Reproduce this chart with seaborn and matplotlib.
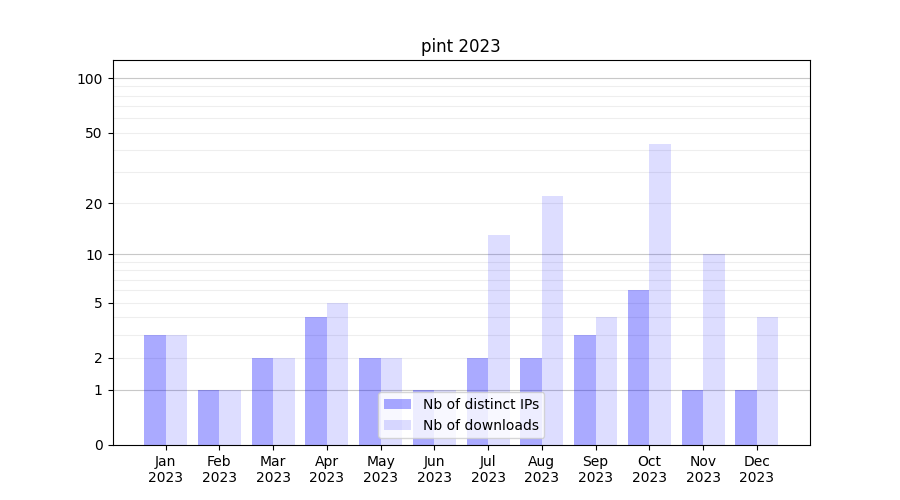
import numpy as np
import pandas as pd
import matplotlib
matplotlib.use('Agg')
import matplotlib.pyplot as plt
import seaborn as sns

# donnees
mois = ['Jan\n2023', 'Feb\n2023', 'Mar\n2023', 'Apr\n2023', 'May\n2023', 'Jun\n2023',
        'Jul\n2023', 'Aug\n2023', 'Sep\n2023', 'Oct\n2023', 'Nov\n2023', 'Dec\n2023']
distinct_ips = [3, 1, 2, 4, 2, 1, 2, 2, 3, 6, 1, 1]
downloads = [3, 1, 2, 5, 2, 1, 13, 22, 4, 43, 10, 4]
series = ['Nb of distinct IPs', 'Nb of downloads']
y_ticks = [0, 1, 2, 5, 10, 20, 50, 100]

df = pd.DataFrame({
    'mois': mois * 2,
    'valeur': distinct_ips + downloads,
    'serie': [series[0]] * len(mois) + [series[1]] * len(mois),
})

fig, ax = plt.subplots(figsize=(9, 5), dpi=100)

# echelle log(x+1)
ax.set_yscale('function', functions=(lambda y: np.log10(np.maximum(y, 0) + 1),
                                      lambda y: 10 ** y - 1))

# grille : lignes fines a chaque unite de decade, plus foncees a 1, 10, 100
for d in [1, 10]:
    for k in range(2, 10):
        ax.axhline(k * d, color='#eeeeee', linewidth=0.8, zorder=0)
for v in [1, 10, 100]:
    ax.axhline(v, color='#c8c8c8', linewidth=0.8, zorder=0)

sns.barplot(data=df, x='mois', y='valeur', hue='serie', hue_order=series,
            palette=['blue', 'blue'], linewidth=0, ax=ax, legend=False,
            zorder=2)

couleurs = [(0, 0, 1, 0.333), (0, 0, 1, 0.133)]
for cont, c in zip(ax.containers, couleurs):
    for bar in cont:
        bar.set_facecolor(c)

# marges par defaut de matplotlib (5 %)
ax.set_xlim(-0.4 - 0.59, len(mois) - 1 + 0.4 + 0.59)
ax.set_ylim(0, 126)
ax.set_yticks(y_ticks)
ax.set_yticklabels([str(t) for t in y_ticks])
ax.yaxis.set_minor_locator(matplotlib.ticker.NullLocator())
ax.set_xlabel('')
ax.set_ylabel('')
ax.set_title('pint 2023')
ax.legend(ax.containers, series, loc='lower center')

plt.savefig('out.png', dpi=100)
